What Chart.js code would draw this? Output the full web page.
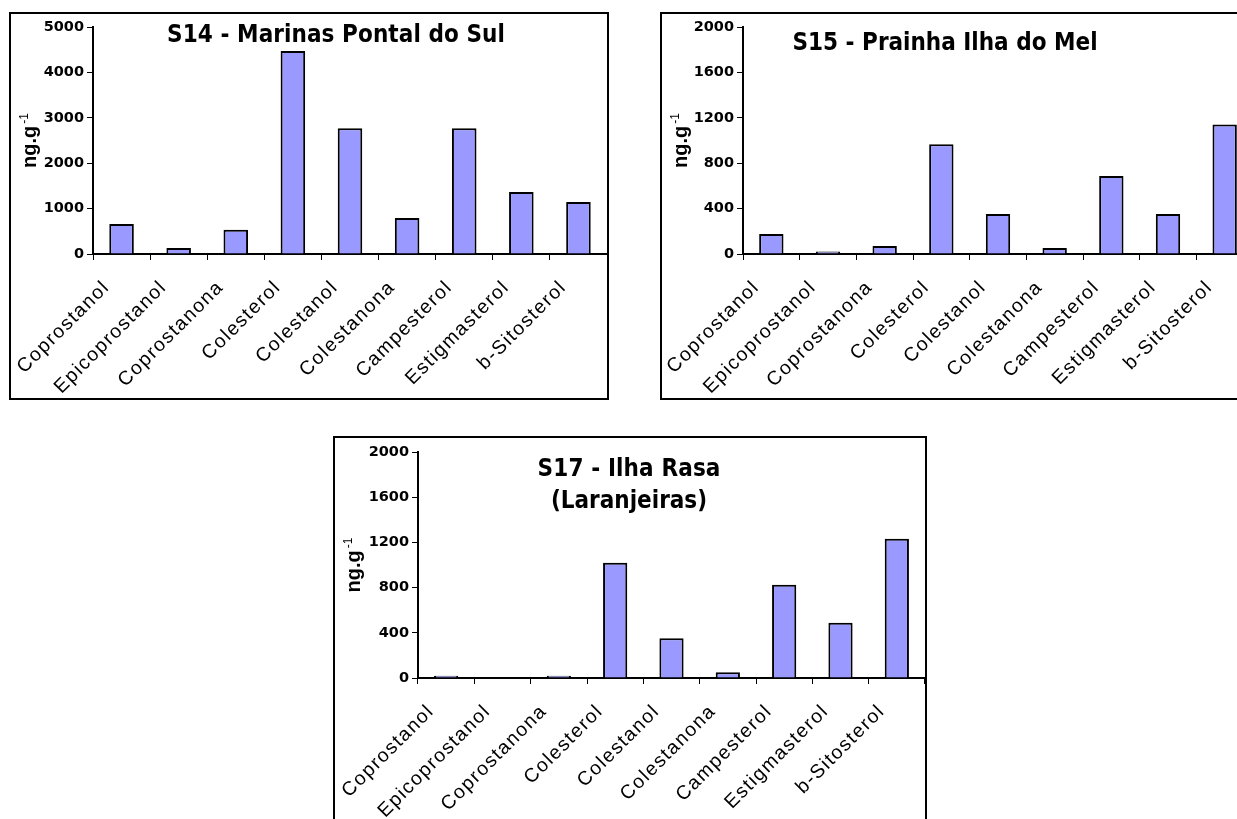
<!DOCTYPE html>
<html>
<head>
<meta charset="utf-8">
<title>Esteróis - S14, S15, S17</title>
<script src="https://cdn.jsdelivr.net/npm/chart.js@4.4.0/dist/chart.umd.min.js"></script>
<style>
    body { margin: 0; background: #fff; width: 1237px; height: 819px; overflow: hidden; position: relative; }
    .box { position: absolute; border: 2px solid #000; box-sizing: border-box; background: #fff; overflow: hidden; }
    .box canvas { position: absolute; left: 0; top: 0; }
</style>
</head>
<body>
<div class="box" style="left:9px; top:12px; width:600px; height:388px;"><canvas id="chart-s14" width="596" height="384"></canvas></div>
<div class="box" style="left:660px; top:12px; width:595px; height:388px;"><canvas id="chart-s15" width="591" height="384"></canvas></div>
<div class="box" style="left:333px; top:436px; width:594px; height:400px;"><canvas id="chart-s17" width="590" height="396"></canvas></div>

<script>
// Compounds (same order on every station)
const compounds = ['Coprostanol', 'Epicoprostanol', 'Coprostanona', 'Colesterol', 'Colestanol',
    'Colestanona', 'Campesterol', 'Estigmasterol', 'b-Sitosterol'];

// Concentrations in ng.g-1
const s14Values = [660, 132, 535, 4470, 2770, 793, 2770, 1366, 1145];
const s15Values = [176, 22, 70, 966, 352, 53, 687, 352, 1140];
const s17Values = [20, 0, 20, 1020, 351, 50, 826, 490, 1233];

// Y tick labels
const s14Ticks = [0, 1000, 2000, 3000, 4000, 5000];
const s15Ticks = [0, 400, 800, 1200, 1600, 2000];
const s17Ticks = [0, 400, 800, 1200, 1600, 2000];

// Titles
const s14Title = ['S14 - Marinas Pontal do Sul'];
const s15Title = ['S15 - Prainha Ilha do Mel'];
const s17Title = ['S17 - Ilha Rasa', '(Laranjeiras)'];

const unitMain = 'ng.g';
const unitSup = '-1';

const TITLE_FONT = '"Liberation Sans Narrow", "DejaVu Sans Condensed", "Liberation Sans", sans-serif';
const LABEL_FONT = '"Liberation Sans", Arial, sans-serif';
const TICK_FONT = '"DejaVu Sans", Verdana, sans-serif';

// x labels are drawn letter-spaced (before datasets), y labels normally (after)
const spacingPlugin = {
    id: 'labelSpacing',
    beforeDraw(chart) { chart.ctx.letterSpacing = '1.5px'; },
    beforeDatasetsDraw(chart) { chart.ctx.letterSpacing = '0px'; }
};

// Title lines drawn inside the plot, stretched to the width seen in the picture
const stationTitle = {
    id: 'stationTitle',
    afterDraw(chart, args, opts) {
        const ctx = chart.ctx;
        ctx.save();
        ctx.fillStyle = '#000';
        ctx.font = 'bold 24px ' + TITLE_FONT;
        ctx.textAlign = 'center';
        ctx.textBaseline = 'alphabetic';
        opts.lines.forEach((line, i) => {
            ctx.letterSpacing = '0px';
            const w = ctx.measureText(line).width;
            const sp = Math.max(0, (opts.widths[i] - w) / line.length);
            ctx.letterSpacing = sp + 'px';
            ctx.fillText(line, opts.x + sp / 2, opts.y[i]);
        });
        ctx.restore();
    }
};

// Rotated unit label with superscript
const unitLabel = {
    id: 'unitLabel',
    afterDraw(chart, args, opts) {
        const ctx = chart.ctx;
        const area = chart.chartArea;
        ctx.save();
        ctx.letterSpacing = '0px';
        ctx.fillStyle = '#000';
        ctx.font = 'bold 20px "Liberation Sans", Arial, sans-serif';
        const wMain = ctx.measureText(unitMain).width;
        ctx.font = '12px "Liberation Sans", Arial, sans-serif';
        const wSup = ctx.measureText(unitSup).width;
        const total = wMain + 2 + wSup;
        ctx.translate(opts.x, (area.top + area.bottom) / 2);
        ctx.rotate(-Math.PI / 2);
        ctx.textAlign = 'left';
        ctx.textBaseline = 'alphabetic';
        ctx.font = 'bold 20px "Liberation Sans", Arial, sans-serif';
        ctx.fillText(unitMain, -total / 2, 0);
        ctx.font = '12px "Liberation Sans", Arial, sans-serif';
        ctx.fillText(unitSup, -total / 2 + wMain + 2, -8);
        ctx.restore();
    }
};

function makeChart(id, values, yTicks, title, cfg) {
    new Chart(document.getElementById(id), {
        type: 'bar',
        data: {
            labels: compounds,
            datasets: [{
                data: values,
                backgroundColor: '#9999FF',
                borderColor: '#000',
                borderWidth: 2,
                borderSkipped: 'bottom',
                barPercentage: 0.43,
                categoryPercentage: 1.0
            }]
        },
        options: {
            responsive: false,
            animation: false,
            events: [],
            layout: { padding: { top: cfg.top, left: 0, right: 0, bottom: 0 } },
            plugins: {
                legend: { display: false },
                tooltip: { enabled: false },
                title: { display: false },
                stationTitle: { lines: title, widths: cfg.titleWidths, x: cfg.titleX, y: cfg.titleY },
                unitLabel: { x: cfg.unitX }
            },
            scales: {
                x: {
                    offset: true,
                    afterFit: s => { s.height = cfg.xHeight; s.paddingLeft = 0; s.paddingRight = 0; },
                    grid: { display: true, offset: true, drawOnChartArea: false, drawTicks: true, tickLength: 6, color: '#000', lineWidth: 1 },
                    border: { display: true, color: '#000', width: 2 },
                    ticks: {
                        autoSkip: false, minRotation: 45, maxRotation: 45,
                        padding: 16, labelOffset: -15, z: 0,
                        color: '#000', font: { family: LABEL_FONT, size: 19.5 }
                    }
                },
                y: {
                    min: yTicks[0],
                    max: yTicks[yTicks.length - 1],
                    afterFit: s => { s.width = cfg.yWidth; },
                    afterBuildTicks: s => { s.ticks = yTicks.map(v => ({ value: v })); },
                    grid: { display: true, drawOnChartArea: false, drawTicks: true, tickLength: 6, color: '#000', lineWidth: 1 },
                    border: { display: true, color: '#000', width: 2 },
                    ticks: {
                        padding: 3, z: 1,
                        callback: v => String(v),
                        color: '#000', font: { family: TICK_FONT, size: 14.5, weight: 'bold' }
                    }
                }
            }
        },
        plugins: [spacingPlugin, stationTitle, unitLabel]
    });
}

makeChart('chart-s14', s14Values, s14Ticks, s14Title,
    { top: 13, xHeight: 144, yWidth: 82, unitX: 25, titleX: 325, titleY: [28], titleWidths: [338] });
makeChart('chart-s15', s15Values, s15Ticks, s15Title,
    { top: 13, xHeight: 144, yWidth: 81, unitX: 25, titleX: 283, titleY: [36], titleWidths: [305] });
makeChart('chart-s17', s17Values, s17Ticks, s17Title,
    { top: 14, xHeight: 156, yWidth: 83, unitX: 25, titleX: 294, titleY: [38, 70], titleWidths: [183, 154] });
</script>
</body>
</html>
